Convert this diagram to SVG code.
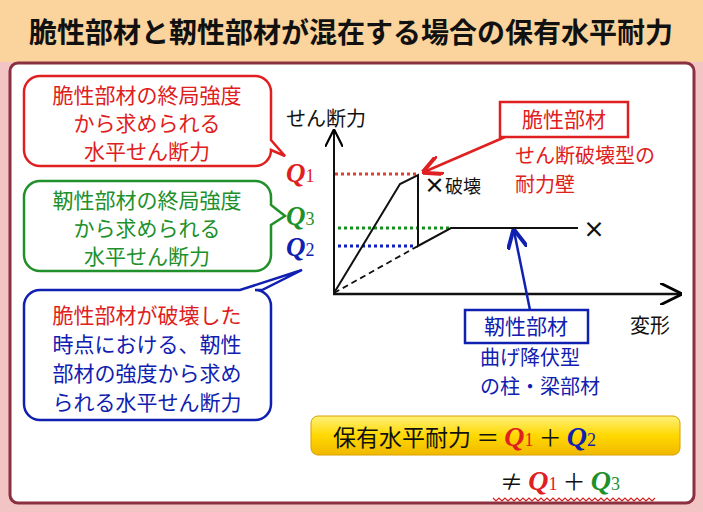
<svg xmlns="http://www.w3.org/2000/svg" width="703" height="512" viewBox="0 0 703 512">
<defs>
<style>
text{font-family:"Noto Sans CJK JP","Noto Sans",sans-serif}
.q{font-family:"Liberation Serif",serif;font-style:italic;font-weight:bold}
.s{font-family:"Liberation Serif",serif}
.call{fill:#fff;stroke-width:2.5}
</style>
<linearGradient id="yg" x1="0" y1="0" x2="0" y2="1"><stop offset="0" stop-color="#fff17a"/><stop offset="0.5" stop-color="#ffd800"/><stop offset="1" stop-color="#f0b800"/></linearGradient>
<marker id="ar" viewBox="0 0 10 10" refX="9" refY="5" markerWidth="8" markerHeight="8" orient="auto"><path d="M0,0L10,5L0,10" fill="none" stroke="#e02020" stroke-width="2"/></marker>
<marker id="ab" viewBox="0 0 10 10" refX="9" refY="5" markerWidth="8" markerHeight="8" orient="auto"><path d="M0,0L10,5L0,10" fill="none" stroke="#1020b0" stroke-width="2"/></marker>
<marker id="ak" viewBox="0 0 10 10" refX="9" refY="5" markerWidth="9" markerHeight="9" orient="auto"><path d="M0,0L10,5L0,10" fill="none" stroke="#000" stroke-width="1.2"/></marker>
</defs>
<rect width="703" height="512" fill="#f2c4c4"/>
<rect width="703" height="62" fill="#fad49c"/>
<text x="351" y="43" text-anchor="middle" font-size="28" font-weight="bold" fill="#111">脆性部材と靭性部材が混在する場合の保有水平耐力</text>
<rect x="10" y="63" width="684" height="440" rx="8" fill="#fff" stroke="#8a3040" stroke-width="3"/>

<g id="callout-red">
<path class="call" stroke="#e02020" d="M40,76H255a16,16 0 0 1 16,16V140L285,156L271,150V150a16,16 0 0 1 -16,16H40a16,16 0 0 1 -16,-16V92a16,16 0 0 1 16,-16Z"/>
<text x="147" y="103" text-anchor="middle" font-size="21" fill="#e02020">脆性部材の終局強度</text>
<text x="147" y="131" text-anchor="middle" font-size="21" fill="#e02020">から求められる</text>
<text x="147" y="159" text-anchor="middle" font-size="21" fill="#e02020">水平せん断力</text>
</g>
<g id="callout-green">
<path class="call" stroke="#20902a" d="M40,181H255a16,16 0 0 1 16,16V205L285,216L271,225V255a16,16 0 0 1 -16,16H40a16,16 0 0 1 -16,-16V197a16,16 0 0 1 16,-16Z"/>
<text x="147" y="208" text-anchor="middle" font-size="21" fill="#20902a">靭性部材の終局強度</text>
<text x="147" y="236" text-anchor="middle" font-size="21" fill="#20902a">から求められる</text>
<text x="147" y="264" text-anchor="middle" font-size="21" fill="#20902a">水平せん断力</text>
</g>
<g id="callout-blue">
<path class="call" stroke="#1020b0" d="M40,290H240L302,270L262,290H255a16,16 0 0 1 16,16V404a16,16 0 0 1 -16,16H40a16,16 0 0 1 -16,-16V306a16,16 0 0 1 16,-16Z"/>
<text x="147" y="323" text-anchor="middle" font-size="21" fill="#e02020">脆性部材が破壊した</text>
<text x="147" y="352" text-anchor="middle" font-size="21" fill="#1020b0">時点における、靭性</text>
<text x="147" y="381" text-anchor="middle" font-size="21" fill="#1020b0">部材の強度から求め</text>
<text x="147" y="410" text-anchor="middle" font-size="21" fill="#1020b0">られる水平せん断力</text>
</g>

<g id="chart">
<text x="286" y="126" font-size="20" fill="#111">せん断力</text>
<text x="630" y="333" font-size="20" fill="#111">変形</text>
<text x="286" y="182" class="q" font-size="27" fill="#e02020">Q<tspan class="s" font-style="normal" font-weight="normal" font-size="18">1</tspan></text>
<text x="286" y="225" class="q" font-size="27" fill="#20902a">Q<tspan class="s" font-style="normal" font-weight="normal" font-size="18">3</tspan></text>
<text x="286" y="256" class="q" font-size="27" fill="#1020b0">Q<tspan class="s" font-style="normal" font-weight="normal" font-size="18">2</tspan></text>
<line x1="335" y1="174" x2="417" y2="174" stroke="#e04030" stroke-width="3" stroke-dasharray="3,3"/>
<line x1="338" y1="228" x2="450" y2="228" stroke="#18901c" stroke-width="3" stroke-dasharray="3,3"/>
<line x1="338" y1="246" x2="416" y2="246" stroke="#1020c0" stroke-width="3" stroke-dasharray="3,3"/>
<polyline points="334,293 400,184 418,175 418,246 451,228 578,228" fill="none" stroke="#111" stroke-width="2"/>
<line x1="334" y1="293" x2="418" y2="246" stroke="#111" stroke-width="1.8" stroke-dasharray="6,4"/>
<text x="424" y="193" font-size="18" fill="#111"><tspan font-size="21" font-weight="bold">×</tspan>破壊</text>
<text x="583" y="237" font-size="22" font-weight="bold" fill="#111">×</text>
</g>
<g id="connectors">
<line x1="334" y1="293" x2="334" y2="131" stroke="#111" stroke-width="2" marker-end="url(#ak)"/>
<line x1="333" y1="294" x2="680" y2="294" stroke="#111" stroke-width="2.5" marker-end="url(#ak)"/>
<line x1="505" y1="137" x2="424" y2="172" stroke="#e02020" stroke-width="2.5" marker-end="url(#ar)"/>
<line x1="530" y1="310" x2="514" y2="231" stroke="#1020b0" stroke-width="2.5" marker-end="url(#ab)"/>
</g>
<g id="brittle">
<rect x="500" y="102" width="128" height="35" fill="#fff" stroke="#e02020" stroke-width="2.5"/>
<text x="564" y="127" text-anchor="middle" font-size="21" fill="#e02020">脆性部材</text>
<text x="515" y="163" font-size="20" fill="#e02020">せん断破壊型の</text>
<text x="515" y="192" font-size="20" fill="#e02020">耐力壁</text>
</g>
<g id="ductile">
<rect x="465" y="310" width="123" height="33" fill="#fff" stroke="#1020b0" stroke-width="2.5"/>
<text x="526" y="334" text-anchor="middle" font-size="21" fill="#1020b0">靭性部材</text>
<text x="480" y="365" font-size="20" fill="#1020b0">曲げ降伏型</text>
<text x="480" y="394" font-size="20" fill="#1020b0">の柱・梁部材</text>
</g>
<g id="formula">
<rect x="311" y="416" width="369" height="39" rx="7" fill="url(#yg)" stroke="#d8a000"/>
<text x="333" y="446" font-size="23" fill="#111">保有水平耐力 ＝ <tspan class="q" fill="#e02020" font-size="28">Q</tspan><tspan class="s" fill="#e02020" font-size="18">1</tspan> ＋ <tspan class="q" fill="#1020b0" font-size="28">Q</tspan><tspan class="s" fill="#1020b0" font-size="18">2</tspan></text>
<text x="500" y="490" font-size="23" fill="#111">≠ <tspan class="q" fill="#e02020" font-size="28">Q</tspan><tspan class="s" fill="#e02020" font-size="18">1</tspan> ＋ <tspan class="q" fill="#20902a" font-size="28">Q</tspan><tspan class="s" fill="#20902a" font-size="18">3</tspan></text>
<path d="M493,498 l3,3 l3,-3 l3,3 l3,-3 l3,3 l3,-3 l3,3 l3,-3 l3,3 l3,-3 l3,3 l3,-3 l3,3 l3,-3 l3,3 l3,-3 l3,3 l3,-3 l3,3 l3,-3 l3,3 l3,-3 l3,3 l3,-3 l3,3 l3,-3 l3,3 l3,-3 l3,3 l3,-3 l3,3 l3,-3 l3,3 l3,-3 l3,3 l3,-3 l3,3 l3,-3 l3,3 l3,-3 l3,3 l3,-3 l3,3 l3,-3 l3,3 l3,-3 l3,3 l3,-3 l3,3 l3,-3 l3,3 l3,-3 l3,3 l3,-3" fill="none" stroke="#d02020" stroke-width="1.2"/>
</g>
</svg>
